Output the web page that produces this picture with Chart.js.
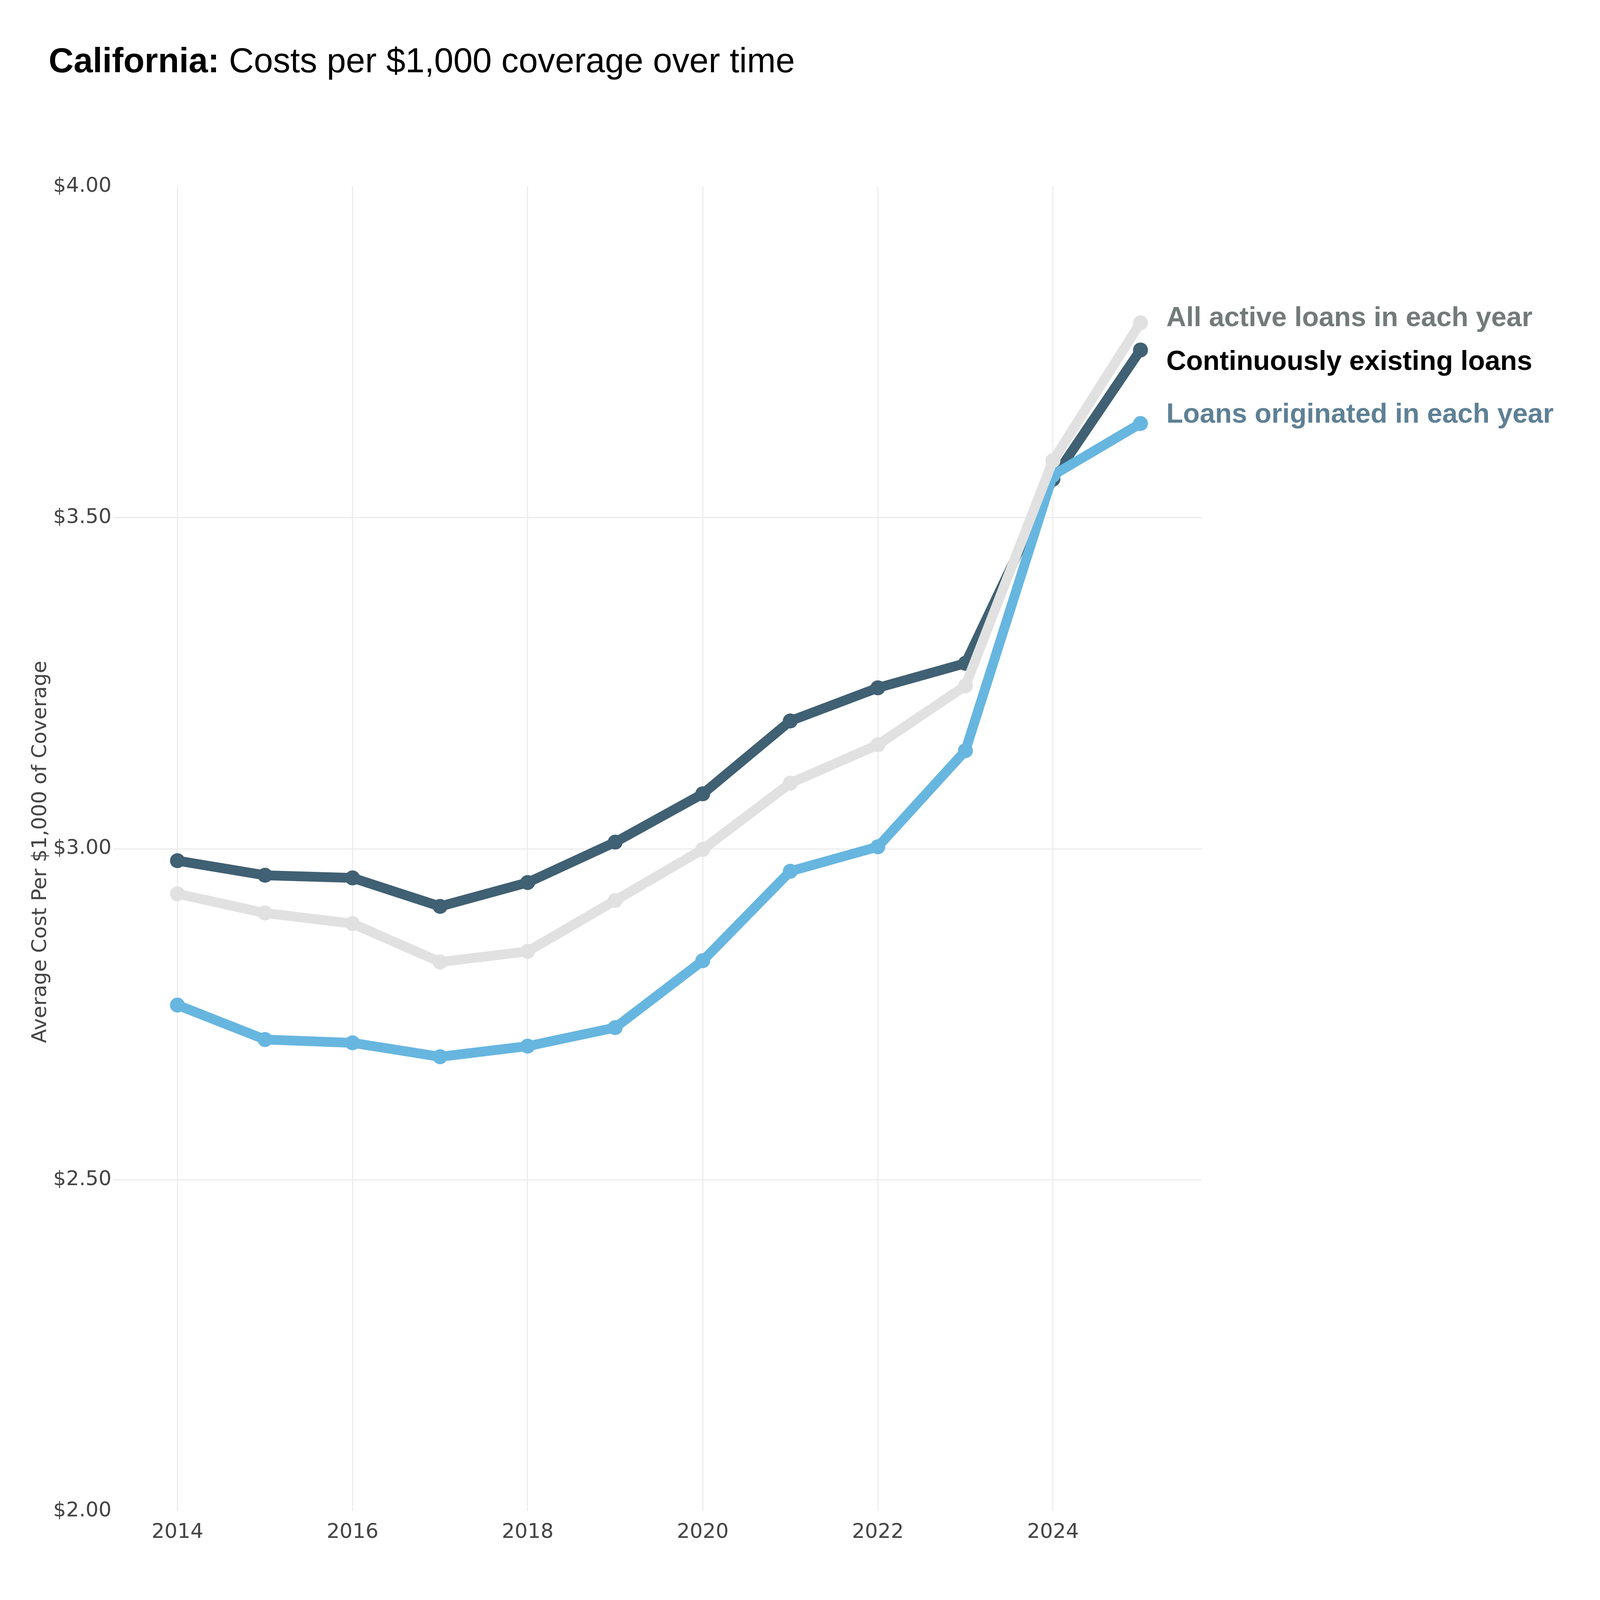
<!DOCTYPE html>
<html>
<head>
<meta charset="utf-8">
<title>California: Costs per $1,000 coverage over time</title>
<script src="https://cdn.jsdelivr.net/npm/chart.js@4.4.1/dist/chart.umd.min.js"></script>
<style>
  html, body { margin:0; padding:0; background:#fff; overflow:hidden; }
  canvas { display:block; }
</style>
</head>
<body>
<canvas id="ch-costs"></canvas>
<script>
// ── data ────────────────────────────────────────────────────────────────
const YEARS       = [2014, 2015, 2016, 2017, 2018, 2019, 2020, 2021, 2022, 2023, 2024, 2025];
const ALL_ACTIVE  = [2.932, 2.903, 2.887, 2.829, 2.845, 2.922, 2.999, 3.099, 3.157, 3.246, 3.586, 3.794];
const CONTINUOUS  = [2.982, 2.960, 2.956, 2.913, 2.949, 3.010, 3.083, 3.193, 3.243, 3.280, 3.558, 3.753];
const ORIGINATED  = [2.764, 2.712, 2.707, 2.686, 2.702, 2.730, 2.831, 2.966, 3.003, 3.148, 3.564, 3.642];

const X_TICKS = [2014, 2016, 2018, 2020, 2022, 2024];
const Y_TICKS = [2.00, 2.50, 3.00, 3.50, 4.00];

const SERIES_NAMES = ['All active loans in each year', 'Continuously existing loans', 'Loans originated in each year'];
const TITLE_BOLD   = 'California:';
const TITLE_REST   = ' Costs per $1,000 coverage over time';
const Y_TITLE      = 'Average Cost Per $1,000 of Coverage';

// ── layout (designed on a 7694 x 5184 page, mapped onto the window) ─────
const W = 7694, H = 5184;
const VW = window.innerWidth || W, VH = window.innerHeight || H;
const SX = VW / W, SY = VH / H, SF = Math.min(SX, SY);
const X = v => v * SX;          // horizontal distances
const Y = v => v * SY;          // vertical distances
const F = v => v * SF;          // font sizes, strokes, markers

const C_GRAY  = '#e1e1e1';
const C_DARK  = '#406073';
const C_BLUE  = '#67b6e0';
const LABEL_COLORS = ['#737b7a', '#000000', '#5e8095'];
const LABEL_DY     = [-21, 33, -35];   // label centre relative to the last point
const SANS = '"Liberation Sans", Arial, Helvetica, sans-serif';
const VERD = '"DejaVu Sans", Verdana, sans-serif';
const TICK_FONT = { family: VERD, size: F(98) };

const canvas = document.getElementById('ch-costs');
canvas.width = Math.round(VW);
canvas.height = Math.round(VH);
canvas.style.width = canvas.width + 'px';
canvas.style.height = canvas.height + 'px';

const pts = vals => YEARS.map((y, i) => ({ x: y, y: vals[i] }));

const lineSet = (label, vals, color, order) => ({
  label, data: pts(vals), order,
  borderColor: color, backgroundColor: color,
  borderWidth: F(47), pointRadius: F(36), pointBorderWidth: 0,
  pointBackgroundColor: color, tension: 0, clip: false,
});

// ── overlay: title, axis title, end-of-line labels ──────────────────────
const overlay = {
  id: 'overlay',
  afterDatasetsDraw(chart) {
    const ctx = chart.ctx;
    ctx.save();
    ctx.font = 'bold ' + F(132) + 'px ' + SANS;
    ctx.textBaseline = 'alphabetic';
    ctx.textAlign = 'left';
    chart.data.datasets.forEach((ds, i) => {
      const meta = chart.getDatasetMeta(i);
      const last = meta.data[meta.data.length - 1];
      ctx.fillStyle = LABEL_COLORS[i];
      ctx.fillText(SERIES_NAMES[i], last.x + X(124), last.y + Y(LABEL_DY[i]) + F(47));
    });
    ctx.restore();
  },
  afterDraw(chart) {
    const { ctx, chartArea } = chart;
    ctx.save();
    // chart title
    ctx.fillStyle = '#000';
    ctx.textBaseline = 'alphabetic';
    ctx.textAlign = 'left';
    ctx.font = 'bold ' + F(166) + 'px ' + SANS;
    const ty = Y(194) + F(59);
    ctx.fillText(TITLE_BOLD, X(234), ty);
    const w = ctx.measureText(TITLE_BOLD).width;
    ctx.font = F(166) + 'px ' + SANS;
    ctx.fillText(TITLE_REST, X(234) + w, ty);

    // y axis title
    ctx.translate(X(186) + F(36), (chartArea.top + chartArea.bottom) / 2 + Y(10));
    ctx.rotate(-Math.PI / 2);
    ctx.textAlign = 'center';
    ctx.fillStyle = '#444';
    ctx.font = F(98) + 'px ' + VERD;
    ctx.fillText(Y_TITLE, 0, 0);
    ctx.restore();
  }
};

new Chart(canvas.getContext('2d'), {
  type: 'line',
  data: {
    datasets: [
      lineSet(SERIES_NAMES[0], ALL_ACTIVE, C_GRAY, 1),
      lineSet(SERIES_NAMES[1], CONTINUOUS, C_DARK, 3),
      lineSet(SERIES_NAMES[2], ORIGINATED, C_BLUE, 2),
    ]
  },
  options: {
    responsive: false, animation: false, devicePixelRatio: 1,
    layout: { autoPadding: false, padding: { left: 0, top: Y(604), right: X(1915), bottom: 0 } },
    plugins: { legend: { display: false }, tooltip: { enabled: false }, title: { display: false } },
    scales: {
      x: {
        type: 'linear', min: 2013.27, max: 2025.70,
        afterBuildTicks: s => { s.ticks = X_TICKS.map(v => ({ value: v })); },
        afterFit: s => { s.height = Y(288); },
        grid: { color: '#ebebeb', lineWidth: F(5), drawTicks: false },
        border: { display: false },
        ticks: { color: '#444', font: TICK_FONT, padding: Y(30), maxRotation: 0, callback: v => String(v) },
      },
      y: {
        type: 'linear', min: 2, max: 4,
        afterBuildTicks: s => { s.ticks = Y_TICKS.map(v => ({ value: v })); },
        afterFit: s => { s.width = X(546); },
        grid: {
          color: c => (c.tick && (c.tick.value === 2 || c.tick.value === 4)) ? 'rgba(0,0,0,0)' : '#ebebeb',
          lineWidth: F(5), drawTicks: false,
        },
        border: { display: false },
        ticks: { color: '#444', font: TICK_FONT, padding: X(10), callback: v => '$' + Number(v).toFixed(2) },
      }
    }
  },
  plugins: [overlay]
});
</script>
</body>
</html>
